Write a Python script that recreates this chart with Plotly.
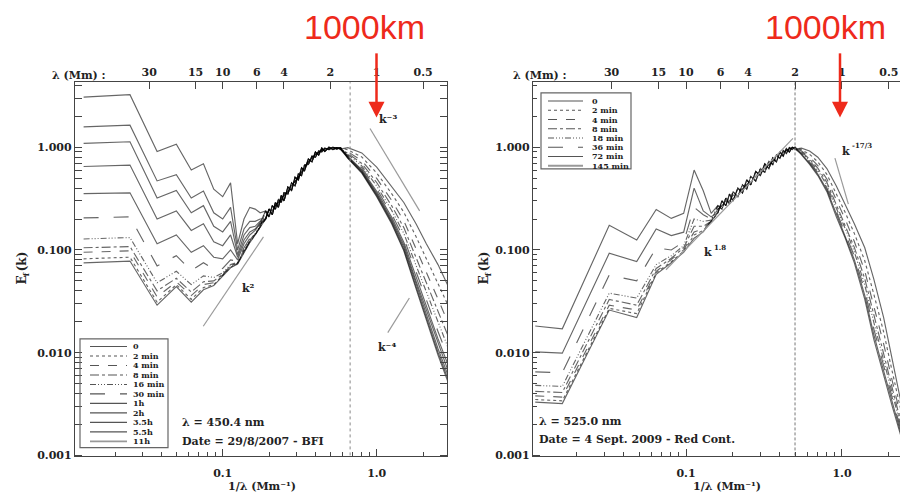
import math
import plotly.graph_objects as go

# ===================== DATA =====================
# ---- Left panel (29/8/2007, BFI, lambda = 450.4 nm) ----
left_names = ["0", "2 min", "4 min", "8 min", "16 min", "30 min", "1h", "2h", "3.5h", "5.5h", "11h"]

L_k_low = [0.0125, 0.025, 0.0375, 0.05, 0.0625, 0.075, 0.0875, 0.1, 0.1125, 0.125, 0.1375, 0.15, 0.1625, 0.175]
L_low_0 = [0.075, 0.078, 0.029, 0.044, 0.031, 0.041, 0.045, 0.055, 0.067, 0.073, 0.094, 0.118, 0.14, 0.166]
L_low_2m = [0.082, 0.085, 0.031, 0.046, 0.033, 0.043, 0.046, 0.056, 0.068, 0.074, 0.095, 0.12, 0.14, 0.167]
L_low_4m = [0.095, 0.098, 0.035, 0.049, 0.036, 0.046, 0.048, 0.057, 0.069, 0.074, 0.096, 0.12, 0.142, 0.168]
L_low_8m = [0.105, 0.108, 0.040, 0.053, 0.039, 0.049, 0.050, 0.058, 0.070, 0.075, 0.098, 0.122, 0.143, 0.17]
L_low_16m = [0.128, 0.132, 0.048, 0.062, 0.046, 0.056, 0.054, 0.060, 0.072, 0.076, 0.10, 0.125, 0.145, 0.17]
L_low_30m = [0.205, 0.21, 0.070, 0.088, 0.063, 0.075, 0.065, 0.066, 0.080, 0.078, 0.105, 0.13, 0.15, 0.175]
L_low_1h = [0.353, 0.36, 0.115, 0.14, 0.095, 0.11, 0.085, 0.082, 0.10, 0.08, 0.115, 0.14, 0.155, 0.18]
L_low_2h = [0.65, 0.67, 0.20, 0.24, 0.155, 0.18, 0.12, 0.11, 0.14, 0.085, 0.125, 0.15, 0.16, 0.185]
L_low_3h5 = [1.09, 1.13, 0.32, 0.38, 0.23, 0.27, 0.17, 0.15, 0.19, 0.09, 0.14, 0.165, 0.17, 0.19]
L_low_5h5 = [1.58, 1.64, 0.47, 0.54, 0.32, 0.375, 0.23, 0.20, 0.26, 0.10, 0.16, 0.19, 0.19, 0.20]
L_low_11h = [3.07, 3.25, 0.91, 1.07, 0.60, 0.69, 0.39, 0.33, 0.45, 0.115, 0.20, 0.26, 0.25, 0.23]

L_rise_k = [0.19, 0.20, 0.21, 0.22, 0.23, 0.24, 0.25, 0.265, 0.28, 0.295, 0.31, 0.325, 0.34, 0.36, 0.38,
            0.40, 0.42, 0.44, 0.46, 0.49, 0.52, 0.55, 0.58]
L_rise_a = [0.20, 0.25, 0.22, 0.29, 0.26, 0.34, 0.30, 0.41, 0.38, 0.51, 0.48, 0.63, 0.59, 0.77, 0.72,
            0.90, 0.84, 0.98, 0.91, 1.0, 0.95, 0.99, 0.96]
L_rise_b = [0.24, 0.21, 0.27, 0.25, 0.31, 0.29, 0.36, 0.35, 0.45, 0.42, 0.55, 0.53, 0.67, 0.68, 0.82,
            0.80, 0.92, 0.90, 0.98, 0.95, 1.0, 0.96, 0.99]
L_rise_c = [0.20, 0.25, 0.24, 0.27, 0.29, 0.31, 0.34, 0.37, 0.42, 0.46, 0.51, 0.57, 0.63, 0.72, 0.78,
            0.85, 0.89, 0.94, 0.96, 0.98, 0.99, 0.98, 0.98]

L_fall_k = [0.65, 0.8, 1.0, 1.25, 1.5, 1.8, 2.1, 2.5, 2.9]
L_fall_0 = [0.99, 0.88, 0.64, 0.42, 0.29, 0.18, 0.115, 0.072, 0.045]
L_fall_2m = [0.944, 0.804, 0.561, 0.354, 0.233, 0.135, 0.0818, 0.048, 0.0292]
L_fall_4m = [0.904, 0.741, 0.498, 0.304, 0.192, 0.104, 0.0603, 0.0333, 0.0198]
L_fall_8m = [0.875, 0.695, 0.454, 0.270, 0.165, 0.0843, 0.0475, 0.0251, 0.0147]
L_fall_16m = [0.849, 0.659, 0.419, 0.244, 0.145, 0.0710, 0.0387, 0.0197, 0.0113]
L_fall_30m = [0.830, 0.630, 0.393, 0.224, 0.130, 0.0612, 0.0327, 0.0161, 0.00912]
L_fall_1h = [0.815, 0.607, 0.372, 0.209, 0.119, 0.0546, 0.0285, 0.0137, 0.00767]
L_fall_2h = [0.802, 0.592, 0.357, 0.199, 0.112, 0.0500, 0.0258, 0.0121, 0.00673]
L_fall_3h5 = [0.793, 0.578, 0.346, 0.191, 0.106, 0.0465, 0.0237, 0.0110, 0.00605]
L_fall_5h5 = [0.785, 0.568, 0.337, 0.185, 0.101, 0.0439, 0.0221, 0.0101, 0.00555]
L_fall_11h = [0.78, 0.56, 0.33, 0.18, 0.098, 0.042, 0.021, 0.0095, 0.0052]

# reference power laws / leader line (left)
L_ref_k2_k = [0.0748, 0.184]
L_ref_k2_v = [0.0181, 0.134]
L_ref_km3_k = [0.905, 1.9]
L_ref_km3_v = [1.52, 0.24]
L_lead_km4_k = [1.18, 1.63]
L_lead_km4_v = [0.0157, 0.0341]
L_vline_k = 0.672

# ---- Right panel (4 Sept. 2009, Red Cont., lambda = 525.0 nm) ----
right_names = ["0", "2 min", "4 min", "8 min", "18 min", "36 min", "72 min", "145 min"]

R_k_low = [0.0108, 0.0161, 0.0322, 0.0483, 0.0644, 0.0805, 0.0966, 0.1127, 0.129, 0.145]
R_low_0 = [0.0033, 0.0032, 0.026, 0.022, 0.058, 0.075, 0.095, 0.13, 0.15, 0.19]
R_low_2m = [0.0035, 0.0034, 0.027, 0.024, 0.060, 0.077, 0.097, 0.14, 0.155, 0.19]
R_low_4m = [0.0038, 0.0037, 0.029, 0.026, 0.062, 0.08, 0.10, 0.15, 0.16, 0.19]
R_low_8m = [0.0042, 0.0041, 0.033, 0.029, 0.066, 0.083, 0.105, 0.17, 0.17, 0.19]
R_low_18m = [0.0048, 0.0047, 0.038, 0.034, 0.072, 0.088, 0.11, 0.20, 0.19, 0.195]
R_low_36m = [0.0065, 0.0064, 0.057, 0.050, 0.105, 0.10, 0.12, 0.26, 0.22, 0.20]
R_low_72m = [0.0102, 0.0099, 0.093, 0.077, 0.16, 0.138, 0.149, 0.40, 0.24, 0.21]
R_low_145m = [0.0182, 0.0171, 0.174, 0.125, 0.248, 0.203, 0.227, 0.60, 0.377, 0.227]

R_rise_k = [0.16, 0.17, 0.18, 0.19, 0.2, 0.215, 0.23, 0.245, 0.26, 0.28, 0.3, 0.32, 0.34, 0.36, 0.38,
            0.4, 0.42, 0.44, 0.46, 0.48, 0.5]
R_rise_a = [0.23, 0.30, 0.27, 0.35, 0.30, 0.40, 0.36, 0.48, 0.43, 0.58, 0.53, 0.69, 0.62, 0.79, 0.72,
            0.90, 0.82, 0.97, 0.90, 1.0, 0.96]
R_rise_b = [0.27, 0.25, 0.32, 0.28, 0.37, 0.33, 0.43, 0.39, 0.52, 0.47, 0.62, 0.57, 0.73, 0.68, 0.84,
            0.78, 0.93, 0.87, 0.99, 0.95, 1.0]
R_rise_c = [0.25, 0.27, 0.30, 0.30, 0.34, 0.36, 0.39, 0.43, 0.47, 0.52, 0.58, 0.62, 0.68, 0.73, 0.79,
            0.84, 0.89, 0.93, 0.96, 0.99, 0.99]

R_fall_k = [0.55, 0.62, 0.7, 0.8, 0.92, 1.05, 1.2, 1.4, 1.6, 1.85, 2.1, 2.4]
R_fall_0 = [0.98, 0.92, 0.80, 0.62, 0.42, 0.28, 0.18, 0.105, 0.052, 0.022, 0.0085, 0.0032]
R_fall_2m = [0.944, 0.853, 0.721, 0.545, 0.353, 0.231, 0.145, 0.0785, 0.0371, 0.0159, 0.00655, 0.00265]
R_fall_4m = [0.918, 0.804, 0.664, 0.491, 0.308, 0.198, 0.121, 0.0624, 0.0283, 0.0122, 0.00532, 0.00228]
R_fall_8m = [0.900, 0.767, 0.625, 0.455, 0.277, 0.177, 0.106, 0.0525, 0.0231, 0.0101, 0.00455, 0.00203]
R_fall_18m = [0.883, 0.741, 0.594, 0.428, 0.255, 0.161, 0.0957, 0.0457, 0.0197, 0.00863, 0.00402, 0.00185]
R_fall_36m = [0.871, 0.716, 0.568, 0.404, 0.236, 0.148, 0.0871, 0.0402, 0.0170, 0.00748, 0.00358, 0.00171]
R_fall_72m = [0.859, 0.697, 0.547, 0.385, 0.222, 0.138, 0.0804, 0.0362, 0.0150, 0.00665, 0.00326, 0.00159]
R_fall_145m = [0.85, 0.68, 0.53, 0.37, 0.21, 0.13, 0.075, 0.033, 0.0135, 0.006, 0.003, 0.0015]

R_ref_k18_k = [0.0744, 0.485]
R_ref_k18_v = [0.0642, 1.22]
R_ref_k173_k = [0.901, 1.099]
R_ref_k173_v = [0.784, 0.279]
R_vline_k = 0.5

# Top axis: wavelength in Mm
lam_ticks = [30, 15, 10, 6, 4, 2, 1, 0.5]
lam_text = ["30", "15", "10", "6", "4", "2", "1", "0.5"]

# ===================== FIGURE =====================
W, H = 900, 500


def px(x):
    return x / W


def py(y):
    return 1 - y / H


SERIF = "DejaVu Serif"
INK = "#222222"
AX = "#444444"
RED = "#ee2a1b"
CUSTOM_DDD = "6px,2px,1px,2px,1px,2px,1px,2px"

left_low = [L_low_0, L_low_2m, L_low_4m, L_low_8m, L_low_16m, L_low_30m,
            L_low_1h, L_low_2h, L_low_3h5, L_low_5h5, L_low_11h]
left_fall = [L_fall_0, L_fall_2m, L_fall_4m, L_fall_8m, L_fall_16m, L_fall_30m,
             L_fall_1h, L_fall_2h, L_fall_3h5, L_fall_5h5, L_fall_11h]
left_rises = [L_rise_a, L_rise_b, L_rise_c]
left_dash = ["solid", "dot", "dash", "dashdot", CUSTOM_DDD, "longdash",
             "solid", "solid", "solid", "solid", "solid"]

right_low = [R_low_0, R_low_2m, R_low_4m, R_low_8m, R_low_18m, R_low_36m, R_low_72m, R_low_145m]
right_fall = [R_fall_0, R_fall_2m, R_fall_4m, R_fall_8m, R_fall_18m, R_fall_36m, R_fall_72m, R_fall_145m]
right_rises = [R_rise_a, R_rise_b, R_rise_c]
right_dash = ["solid", "dot", "dash", "dashdot", CUSTOM_DDD, "longdash", "solid", "solid"]

fig = go.Figure()

CURVE_COL = "rgba(0,0,0,0.6)"

for i, name in enumerate(left_names):
    rise = left_rises[i % 3]
    fig.add_trace(go.Scatter(
        x=L_k_low + L_rise_k + L_fall_k, y=left_low[i] + rise + left_fall[i],
        mode="lines", name=name, xaxis="x", yaxis="y",
        line=dict(color=CURVE_COL, width=1.15, dash=left_dash[i]),
        hoverinfo="skip"))

for i, name in enumerate(right_names):
    rise = right_rises[i % 3]
    fig.add_trace(go.Scatter(
        x=R_k_low + R_rise_k + R_fall_k, y=right_low[i] + rise + right_fall[i],
        mode="lines", name=name, xaxis="x2", yaxis="y2",
        line=dict(color=CURVE_COL, width=1.15, dash=right_dash[i]),
        hoverinfo="skip"))

REF_COL = "#9a9a9a"
for kx, vy, xa, ya in [(L_ref_k2_k, L_ref_k2_v, "x", "y"),
                       (L_ref_km3_k, L_ref_km3_v, "x", "y"),
                       (L_lead_km4_k, L_lead_km4_v, "x", "y"),
                       (R_ref_k18_k, R_ref_k18_v, "x2", "y2"),
                       (R_ref_k173_k, R_ref_k173_v, "x2", "y2")]:
    fig.add_trace(go.Scatter(x=kx, y=vy, mode="lines", xaxis=xa, yaxis=ya,
                             line=dict(color=REF_COL, width=1.2), hoverinfo="skip"))

# vertical lines at the peak scale
fig.add_trace(go.Scatter(x=[L_vline_k, L_vline_k], y=[0.001, 4.3], mode="lines", xaxis="x", yaxis="y",
                         line=dict(color="#888888", width=1, dash="dot"), hoverinfo="skip"))
fig.add_trace(go.Scatter(x=[R_vline_k, R_vline_k], y=[0.001, 4.3], mode="lines", xaxis="x2", yaxis="y2",
                         line=dict(color="#777777", width=1, dash="3px,2px"), hoverinfo="skip"))

# invisible anchors for the top (wavelength) axes
fig.add_trace(go.Scatter(x=[0.5], y=[1], xaxis="x3", yaxis="y", mode="markers",
                         marker=dict(opacity=0), hoverinfo="skip"))
fig.add_trace(go.Scatter(x=[0.5], y=[1], xaxis="x4", yaxis="y2", mode="markers",
                         marker=dict(opacity=0), hoverinfo="skip"))

tickfont = dict(family=SERIF, size=11, color=INK, weight="bold")
x_minor = [0.02, 0.03, 0.04, 0.05, 0.06, 0.07, 0.08, 0.09,
           0.2, 0.3, 0.4, 0.5, 0.6, 0.7, 0.8, 0.9, 2]
y_minor = [m * d for d in (0.001, 0.01, 0.1, 1) for m in range(2, 10) if m * d < 4.3]

base_axis = dict(type="log", showgrid=False, zeroline=False, showline=True, linecolor=AX,
                 linewidth=1.3, ticks="inside", tickcolor=AX, tickwidth=1, ticklen=7,
                 tickfont=tickfont)

y_dom = [py(462), py(83)]
YR = [-3.01, 0.635]

fig.update_layout(
    width=W, height=H, margin=dict(l=0, r=0, t=0, b=0),
    paper_bgcolor="white", plot_bgcolor="white", showlegend=False,
    xaxis=dict(base_axis, domain=[px(75), px(447)], range=[-1.959, 0.4565], anchor="y",
               tickvals=[0.1, 1], ticktext=["0.1", "1.0"], ticklabelstandoff=6,
               minor=dict(tickvals=x_minor, ticks="inside", ticklen=4, tickcolor=AX)),
    yaxis=dict(base_axis, domain=y_dom, range=YR, anchor="x",
               tickvals=[0.001, 0.01, 0.1, 1], ticktext=["0.001", "0.010", "0.100", "1.000"],
               mirror="allticks",
               minor=dict(tickvals=y_minor, ticks="inside", ticklen=4, tickcolor=AX)),
    xaxis3=dict(base_axis, overlaying="x", side="top", anchor="y", range=[-1.959, 0.4565],
                tickvals=[1 / l for l in lam_ticks], ticktext=lam_text),
    xaxis2=dict(base_axis, domain=[px(533), 1.0], range=[-1.981, 0.372], anchor="y2",
                tickvals=[0.1, 1], ticktext=["0.1", "1.0"], ticklabelstandoff=6,
                minor=dict(tickvals=x_minor, ticks="inside", ticklen=4, tickcolor=AX)),
    yaxis2=dict(base_axis, domain=y_dom, range=YR, anchor="x2",
                tickvals=[0.001, 0.01, 0.1, 1], ticktext=["0.001", "0.010", "0.100", "1.000"],
                minor=dict(tickvals=y_minor, ticks="inside", ticklen=4, tickcolor=AX)),
    xaxis4=dict(base_axis, overlaying="x2", side="top", anchor="y2", range=[-1.981, 0.372],
                tickvals=[1 / l for l in lam_ticks], ticktext=lam_text),
)

ann = []
shapes = []


def note(x, y, text, size=11, xanchor="left", angle=0, color=INK, family=SERIF, weight="bold"):
    ann.append(dict(x=px(x), y=py(y), xref="paper", yref="paper", text=text, showarrow=False,
                    xanchor=xanchor, yanchor="middle", textangle=angle,
                    font=dict(family=family, size=size, color=color, weight=weight)))


def data_note(k, v, text, xa, ya, size=11):
    ann.append(dict(x=math.log10(k), y=math.log10(v), xref=xa, yref=ya, text=text, showarrow=False,
                    xanchor="center", yanchor="middle", font=dict(family=SERIF, size=size, color=INK,
                                                                  weight="bold")))


# axis titles and headers
note(50, 76, "λ (Mm) :")
note(511, 76, "λ (Mm) :")
for cx in (22, 484):
    # E_f(k), rotated, built from pieces (subscript f)
    note(cx, 284, "E", size=12, angle=-90, xanchor="center")
    note(cx + 4, 277.5, "f", size=8, angle=-90, xanchor="center")
    note(cx, 264.5, "(k)", size=12, angle=-90, xanchor="center")
note(262, 492, "1/λ (Mm⁻¹)", xanchor="center")
note(727, 492, "1/λ (Mm⁻¹)", xanchor="center")

# in-plot info text
note(180, 428, "λ = 450.4 nm")
note(180, 447, "Date = 29/8/2007 - BFI")
note(537, 427, "λ = 525.0 nm")
note(537, 445, "Date = 4 Sept. 2009 - Red Cont.")

# power-law labels
data_note(1.18, 1.86, "k⁻³", "x", "y")
data_note(0.146, 0.042, "k²", "x", "y")
data_note(1.17, 0.0112, "k⁻⁴", "x", "y")
note(708, 256, "k", xanchor="center")
note(712, 250.5, "1.8", size=7)
note(846, 153, "k", xanchor="center")
note(850, 147.5, "-17/3", size=7)

# red "1000km" markers
for cx, ax_x in [(364, 376.5), (825, 840)]:
    note(cx, 27, "1000km", size=34, xanchor="center", color=RED, family="Liberation Sans", weight="normal")
    shapes.append(dict(type="line", xref="paper", yref="paper", x0=px(ax_x), x1=px(ax_x),
                       y0=py(54), y1=py(104), line=dict(color=RED, width=2.5)))
    shapes.append(dict(type="path", xref="paper", yref="paper",
                       path=f"M {px(ax_x - 8)} {py(103)} L {px(ax_x + 8)} {py(103)} L {px(ax_x)} {py(119)} Z",
                       fillcolor=RED, line=dict(color=RED, width=0)))


# manual legends
def legend(names, dashes, box, y0, dy, lx0, lx1, tx):
    shapes.append(dict(type="rect", xref="paper", yref="paper", x0=px(box[0]), x1=px(box[2]),
                       y0=py(box[1]), y1=py(box[3]), line=dict(color="#666666", width=1.2)))
    for i, (n, d) in enumerate(zip(names, dashes)):
        y = y0 + i * dy
        col = "#999999" if i == len(names) - 1 else "#555555"
        wid = 1.8 if i == len(names) - 1 else 1.1
        shapes.append(dict(type="line", xref="paper", yref="paper", x0=px(lx0), x1=px(lx1),
                           y0=py(y), y1=py(y), line=dict(color=col, width=wid, dash=d)))
        note(tx, y, n, size=8)


legend(left_names, left_dash, (80, 343, 168, 453), 350.7, 9.6, 90, 127, 131)
legend(right_names, right_dash, (541, 94, 631, 171), 102.3, 9.35, 548, 583, 590)

fig.update_layout(annotations=ann, shapes=shapes)
fig.write_html("out.html")
